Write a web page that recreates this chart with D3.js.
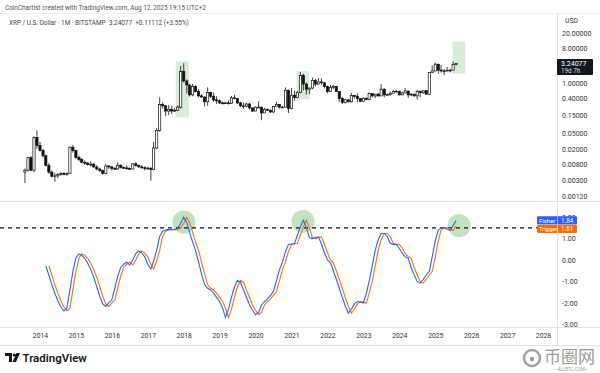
<!DOCTYPE html>
<html>
<head>
<meta charset="utf-8">
<script src="https://cdn.jsdelivr.net/npm/d3@7"></script>
<style>
  body { margin: 0; background: #fff; }
  svg { display: block; font-family: Roboto, "Noto Sans", sans-serif; }
</style>
</head>
<body>
<div id="chart"></div>
<script>
// monthly XRP/USD candles, Aug 2013 .. Aug 2025
const firstMonth = "2013-08";
const opens = [
  .0050, .0056, .0118, .0056, .0390,
  .0245, .0180, .0132, .0075, .0050, .0039, .0040, .0043, .0046, .0043, .0046, .0220,
  .0180, .0120, .0105, .0090, .0085, .0078, .0080, .0068, .0060, .0055, .0046, .0072,
  .0068, .0062, .0060, .0075, .0066, .0064, .0062, .0060, .0082, .0074, .0068, .0065,
  .0062, .0063, .0058, .0210, .0600, .2800, .2600, .1900, .2100, .1900, .2000, .2400,
  2.00, 1.15, .90, .50, .83, .61, .47, .44, .33, .58, .46, .37,
  .35, .31, .31, .31, .30, .42, .40, .31, .26, .25, .29, .23,
  .19, .24, .24, .17, .21, .20, .18, .25, .28, .24, .24, .66,
  .22, .49, .43, .57, 1.60, .95, .70, .75, 1.17, .95, 1.08, 1.03,
  .83, .61, .78, .82, .61, .40, .32, .37, .33, .48, .46, .40,
  .34, .41, .38, .54, .47, .52, .47, .70, .50, .51, .55, .61,
  .62, .50, .56, .63, .50, .52, .47, .62, .57, .64, .52, 1.91,
  2.08, 3.11, 2.19, 2.09, 2.09, 2.17, 2.18, 3.05
];
const highs = [
  .0062, .0125, .0130, .0420, .0600,
  .0300, .0200, .0140, .0085, .0055, .0048, .0047, .0050, .0050, .0049, .0230, .0250,
  .0190, .0135, .0115, .0100, .0092, .0095, .0085, .0075, .0065, .0058, .0080, .0075,
  .0072, .0068, .0090, .0080, .0070, .0075, .0066, .0085, .0090, .0078, .0075, .0070,
  .0068, .0066, .0300, .0700, .4300, .3200, .2700, .2700, .2600, .2300, .2700, 2.800,
  3.30, 1.25, .97, .95, .89, .70, .52, .45, .78, .60, .57, .46,
  .38, .34, .33, .36, .47, .50, .41, .33, .32, .31, .31, .23,
  .25, .34, .24, .23, .22, .21, .26, .33, .29, .26, .78, .68,
  .75, .65, .63, 1.96, 1.75, 1.05, .77, 1.41, 1.30, 1.35, 1.34, 1.06,
  .87, .91, .91, .85, .63, .44, .39, .39, .56, .50, .55, .41,
  .43, .42, .58, .55, .53, .56, .94, .74, .54, .61, .67, .67,
  .63, .60, .74, .63, .55, .53, .66, .64, .66, .64, 1.91, 2.91,
  3.40, 3.15, 3.00, 2.36, 2.65, 2.34, 3.66, 3.35
];
const lows = [
  .0026, .0052, .0052, .0050, .0200,
  .0170, .0120, .0070, .0045, .0036, .0028, .0035, .0040, .0041, .0040, .0045, .0160,
  .0110, .0095, .0085, .0078, .0074, .0070, .0065, .0055, .0050, .0043, .0044, .0060,
  .0055, .0058, .0058, .0062, .0060, .0058, .0058, .0059, .0070, .0065, .0060, .0055,
  .0058, .0030, .0056, .0200, .0550, .2200, .1400, .1500, .1600, .1800, .1900, .2200,
  1.05, .55, .45, .46, .58, .43, .42, .25, .26, .41, .33, .29,
  .29, .28, .30, .28, .29, .38, .29, .24, .22, .24, .21, .18,
  .19, .23, .11, .17, .19, .17, .17, .25, .22, .23, .24, .17,
  .21, .35, .41, .55, .65, .51, .52, .70, .83, .93, .90, .73,
  .55, .60, .70, .61, .33, .29, .30, .32, .32, .40, .32, .33,
  .34, .36, .36, .43, .41, .45, .46, .43, .48, .47, .55, .59,
  .48, .49, .55, .42, .47, .45, .38, .43, .53, .50, .50, 1.89,
  2.05, 1.77, 1.90, 1.61, 2.08, 1.91, 2.18, 2.90
];
const closes = [
  .0056, .0118, .0056, .0390, .0245,
  .0180, .0132, .0075, .0050, .0039, .0040, .0043, .0046, .0043, .0046, .0220, .0180,
  .0120, .0105, .0090, .0085, .0078, .0080, .0068, .0060, .0055, .0046, .0072, .0068,
  .0062, .0060, .0075, .0066, .0064, .0062, .0060, .0082, .0074, .0068, .0065, .0062,
  .0063, .0058, .0210, .0600, .2800, .2600, .1900, .2100, .1900, .2000, .2400, 2.000,
  1.15, .90, .50, .83, .61, .47, .44, .33, .58, .46, .37, .35,
  .31, .31, .31, .30, .42, .40, .31, .26, .25, .29, .23, .19,
  .24, .24, .17, .21, .20, .18, .25, .28, .24, .24, .66, .22,
  .49, .43, .57, 1.60, .95, .70, .75, 1.17, .95, 1.08, 1.03, .83,
  .61, .78, .82, .61, .40, .32, .37, .33, .48, .46, .40, .34,
  .41, .38, .54, .47, .52, .47, .70, .50, .51, .55, .61, .62,
  .50, .56, .63, .50, .52, .47, .62, .57, .64, .52, 1.91, 2.08,
  3.11, 2.19, 2.09, 2.09, 2.17, 2.18, 3.05, 3.24
];

// Fisher transform (monthly) starting Mar 2014, trigger starting Apr 2014
const fisherStart = "2014-03";
const fisher = [
  -0.28, -0.70, -1.15, -1.55, -1.90, -2.20, -2.38, -2.25, -1.40, -0.55,
  0.10, 0.28, 0.22, 0.08, -0.15, -0.45, -0.80, -1.25, -1.70, -2.05, -2.17, -2.00,
  -1.86, -1.30, -0.75, -0.35, -0.20, -0.10, -0.23, 0.00, 0.30, 0.42, 0.32, 0.15,
  -0.20, -0.42, -0.05, 0.45, 1.10, 1.35, 1.40, 1.43, 1.42, 1.44, 1.48, 1.72,
  2.00, 1.75, 1.30, 0.85, 0.45, -0.10, -0.65, -1.15, -1.32, -1.40, -1.55, -1.75,
  -1.94, -2.25, -2.68, -2.30, -1.75, -1.25, -0.95, -1.05, -1.40, -1.75, -2.10, -2.35,
  -2.56, -2.45, -2.10, -1.95, -1.82, -1.65, -1.47, -0.95, -0.45, -0.08, 0.40, 0.73,
  0.75, 0.77, 1.15, 1.55, 1.86, 1.50, 1.05, 1.00, 1.05, 1.08, 0.75, 0.35,
  0.00, -0.12, -0.50, -0.90, -1.32, -1.75, -2.15, -2.48, -2.30, -2.05, -1.94, -1.97,
  -2.01, -1.55, -1.00, -0.30, 0.45, 0.95, 1.24, 1.24, 1.10, 0.78, 0.73, 0.73,
  0.55, 0.31, 0.15, 0.08, -0.35, -0.70, -1.00, -1.08, -0.90, -0.70, -0.54, 0.15,
  0.90, 1.40, 1.50, 1.50, 1.45, 1.38, 1.61, 1.84
];
const triggerStart = "2014-04";
const trigger = [
  -0.28, -0.70, -1.15, -1.55, -1.90, -2.20, -2.38, -2.25, -1.40, -0.55,
  0.10, 0.28, 0.22, 0.08, -0.15, -0.45, -0.80, -1.25, -1.70, -2.05, -2.17, -2.00,
  -1.86, -1.30, -0.75, -0.35, -0.20, -0.10, -0.23, 0.00, 0.30, 0.42, 0.32, 0.15,
  -0.20, -0.42, -0.05, 0.45, 1.10, 1.35, 1.40, 1.43, 1.42, 1.44, 1.48, 1.72,
  2.00, 1.75, 1.30, 0.85, 0.45, -0.10, -0.65, -1.15, -1.32, -1.40, -1.55, -1.75,
  -1.94, -2.25, -2.68, -2.30, -1.75, -1.25, -0.95, -1.05, -1.40, -1.75, -2.10, -2.35,
  -2.56, -2.45, -2.10, -1.95, -1.82, -1.65, -1.47, -0.95, -0.45, -0.08, 0.40, 0.73,
  0.75, 0.77, 1.15, 1.55, 1.86, 1.50, 1.05, 1.00, 1.05, 1.08, 0.75, 0.35,
  0.00, -0.12, -0.50, -0.90, -1.32, -1.75, -2.15, -2.48, -2.30, -2.05, -1.94, -1.97,
  -2.01, -1.55, -1.00, -0.30, 0.45, 0.95, 1.24, 1.24, 1.10, 0.78, 0.73, 0.73,
  0.55, 0.31, 0.15, 0.08, -0.35, -0.70, -1.00, -1.08, -0.90, -0.70, -0.54, 0.15,
  0.90, 1.40, 1.50, 1.50, 1.45, 1.38, 1.61
];
const fisherLevel = 1.5;

// tick labels
const priceTicks = [20, 8, 1, 0.4, 0.15, 0.05, 0.02, 0.008, 0.003, 0.0012];
const fisherTicks = [2, 1, 0, -1, -2, -3];
const yearLabels = ["2014","2015","2016","2017","2018","2019","2020","2021",
                    "2022","2023","2024","2025","2026","2027","2028"];

// highlighted zones: [start, end, low price, high price]
const priceZones = [
  ["2017-10-12", "2018-02-22", 0.13, 3.7],
  ["2021-02-22", "2021-06-30", 0.38, 2.05],
  ["2025-06-25", "2025-11-01", 1.79, 11.9]
];
// highlighted fisher tops: [date, value]
const fisherTops = [["2018-01-03", 1.77], ["2021-04-28", 1.80], ["2025-09-01", 1.61]];

const lastPrice = 3.24077, lastFisher = 1.84, lastTrigger = 1.61;

/** LAYOUT */
const width = 600, height = 373,
  paneRight = 557,
  price = { top: 15, bottom: 200 },
  ind = { top: 202, bottom: 327 };

const parseM = d3.timeParse("%Y-%m");
const parseD = d3.timeParse("%Y-%m-%d");
const monthsFrom = (start, n) => d3.timeMonth.range(parseM(start), d3.timeMonth.offset(parseM(start), n));

const candleDates = monthsFrom(firstMonth, closes.length);
const candles = candleDates.map((d, i) => ({ date: d, o: opens[i], h: highs[i], l: lows[i], c: closes[i] }));
const fisherData = monthsFrom(fisherStart, fisher.length).map((d, i) => ({ date: d, v: fisher[i] }));
const triggerData = monthsFrom(triggerStart, trigger.length).map((d, i) => ({ date: d, v: trigger[i] }));

/** SCALES */
const x = d3.scaleTime()
  .domain([new Date(2014, 0, 1), new Date(2028, 0, 1)])
  .range([40, 543]);
const yP = d3.scaleLog().domain([0.0012, 20]).range([196, 33]);
const yF = d3.scaleLinear().domain([-3, 2]).range([324.2, 217.2]);

const svg = d3.select("#chart").append("svg")
  .attr("width", width).attr("height", height);

const defs = svg.append("defs");
defs.append("clipPath").attr("id", "clipP").append("rect")
  .attr("x", 0).attr("y", price.top).attr("width", paneRight).attr("height", price.bottom - price.top);
defs.append("clipPath").attr("id", "clipI").append("rect")
  .attr("x", 0).attr("y", ind.top).attr("width", paneRight).attr("height", ind.bottom - ind.top);

// header
svg.append("text").attr("x", 5).attr("y", 10)
  .attr("font-size", 6.4).attr("fill", "#555")
  .text("CoinChartist created with TradingView.com, Aug 12, 2025 19:15 UTC+2");
svg.append("line").attr("x1", 0).attr("x2", width).attr("y1", 13.5).attr("y2", 13.5)
  .attr("stroke", "#eceef2");
svg.append("text").attr("x", 9).attr("y", 25)
  .attr("font-size", 6.4).attr("fill", "#444")
  .text("XRP / U.S. Dollar · 1M · BITSTAMP  3.24077  +0.11112 (+3.55%)")
  .attr("xml:space", "preserve");

// pane separators
const sep = svg.append("g").attr("stroke", "#e0e3eb").attr("stroke-width", 1);
sep.append("line").attr("x1", 0).attr("x2", width).attr("y1", 201.5).attr("y2", 201.5);
sep.append("line").attr("x1", 0).attr("x2", width).attr("y1", 327.5).attr("y2", 327.5);
sep.append("line").attr("x1", 0).attr("x2", width).attr("y1", 345.5).attr("y2", 345.5);
sep.append("line").attr("x1", paneRight + 0.5).attr("x2", paneRight + 0.5).attr("y1", 13.5).attr("y2", 345.5);

/** PRICE PANE */
const gP = svg.append("g").attr("clip-path", "url(#clipP)");
gP.selectAll("rect.zone").data(priceZones).join("rect")
  .attr("class", "zone")
  .attr("x", d => x(parseD(d[0])))
  .attr("width", d => x(parseD(d[1])) - x(parseD(d[0])))
  .attr("y", d => yP(d[3]))
  .attr("height", d => yP(d[2]) - yP(d[3]))
  .attr("fill", "rgba(76,175,80,0.22)");

const bw = 2.2;
const cg = gP.selectAll("g.candle").data(candles).join("g").attr("class", "candle");
cg.append("line")
  .attr("x1", d => x(d.date)).attr("x2", d => x(d.date))
  .attr("y1", d => yP(d.h)).attr("y2", d => yP(d.l))
  .attr("stroke", "#111").attr("stroke-width", 0.8);
cg.append("rect")
  .attr("x", d => x(d.date) - bw / 2)
  .attr("width", bw)
  .attr("y", d => yP(Math.max(d.o, d.c)))
  .attr("height", d => Math.max(0.8, Math.abs(yP(d.o) - yP(d.c))))
  .attr("fill", d => d.c >= d.o ? "#fff" : "#111")
  .attr("stroke", "#111").attr("stroke-width", 0.7);

// price scale
svg.append("text").attr("x", 565).attr("y", 23).attr("font-size", 6.8).attr("fill", "#333").text("USD");
const pAxis = svg.append("g").attr("transform", `translate(562,0)`)
  .call(d3.axisRight(yP).tickValues(priceTicks).tickFormat(d3.format(".5f")).tickSize(0).tickPadding(0));
pAxis.select(".domain").remove();
pAxis.selectAll("text").attr("font-size", 7).attr("fill", "#333").attr("font-family", "Roboto, sans-serif");

const ly = yP(lastPrice);
svg.append("rect").attr("x", paneRight).attr("y", ly - 4.5).attr("width", 36).attr("height", 16)
  .attr("rx", 1).attr("fill", "#131722");
svg.append("text").attr("x", 561).attr("y", ly + 2.5).attr("font-size", 7).attr("fill", "#fff").text(lastPrice.toFixed(5));
svg.append("text").attr("x", 561).attr("y", ly + 9.8).attr("font-size", 6.3).attr("fill", "#ddd").text("19d 7h");

/** FISHER PANE */
const gI = svg.append("g").attr("clip-path", "url(#clipI)");
gI.selectAll("circle.top").data(fisherTops).join("circle")
  .attr("class", "top")
  .attr("cx", d => x(parseD(d[0])))
  .attr("cy", d => yF(d[1]))
  .attr("r", 11.5)
  .attr("fill", "rgba(76,175,80,0.35)");

gI.append("line")
  .attr("x1", 0).attr("x2", paneRight)
  .attr("y1", yF(fisherLevel)).attr("y2", yF(fisherLevel))
  .attr("stroke", "#111").attr("stroke-width", 1.2).attr("stroke-dasharray", "4,4");

const line = d3.line().x(d => x(d.date)).y(d => yF(d.v)).curve(d3.curveLinear);
gI.append("path").datum(triggerData).attr("d", line)
  .attr("fill", "none").attr("stroke", "#ff6d00").attr("stroke-width", 1.1);
gI.append("path").datum(fisherData).attr("d", line)
  .attr("fill", "none").attr("stroke", "#2962ff").attr("stroke-width", 1.1);

const fAxis = svg.append("g").attr("transform", `translate(562,0)`)
  .call(d3.axisRight(yF).tickValues(fisherTicks).tickFormat(d => d.toFixed(2)).tickSize(0).tickPadding(0));
fAxis.select(".domain").remove();
fAxis.selectAll("text").attr("font-size", 7).attr("fill", "#333").attr("font-family", "Roboto, sans-serif");

// fisher / trigger labels
const labels = [
  { name: "Fisher", v: lastFisher, y: yF(lastFisher) - 4.3, color: "#2962ff" },
  { name: "Trigger", v: lastTrigger, y: yF(lastFisher) + 4.3, color: "#ff6d00" }
];
const lg = svg.selectAll("g.flab").data(labels).join("g").attr("class", "flab");
lg.append("rect").attr("x", 537).attr("y", d => d.y).attr("width", 40).attr("height", 8.2)
  .attr("rx", 1).attr("fill", d => d.color);
lg.append("line").attr("x1", 557.5).attr("x2", 557.5).attr("y1", d => d.y).attr("y2", d => d.y + 8.2)
  .attr("stroke", "rgba(255,255,255,0.5)");
lg.append("text").attr("x", 539).attr("y", d => d.y + 6.2).attr("font-size", 6).attr("fill", "#fff").text(d => d.name);
lg.append("text").attr("x", 561).attr("y", d => d.y + 6.2).attr("font-size", 6.3).attr("fill", "#fff").text(d => d.v.toFixed(2));

/** TIME AXIS */
const xAxis = svg.append("g").attr("transform", "translate(0,331)")
  .call(d3.axisBottom(x)
    .tickValues(yearLabels.map(y => new Date(+y, 0, 1)))
    .tickFormat(d3.timeFormat("%Y")).tickSize(0).tickPadding(2));
xAxis.select(".domain").remove();
xAxis.selectAll("text").attr("font-size", 6.8).attr("fill", "#333").attr("font-family", "Roboto, sans-serif");

/** FOOTER */
const logo = svg.append("g").attr("fill", "#131722");
logo.append("path").attr("d", "M5,353 H12 V362 H9 V356 H5 Z");
logo.append("circle").attr("cx", 14.3).attr("cy", 355).attr("r", 1.6);
logo.append("path").attr("d", "M16.5,353 H20 L16,362 H12.5 Z");
svg.append("text").attr("x", 22.5).attr("y", 362).attr("font-size", 11.5)
  .attr("font-weight", 600).attr("fill", "#131722").text("TradingView");

// watermark
const wm = svg.append("g").attr("fill", "#9a9a9a");
wm.append("circle").attr("cx", 532).attr("cy", 358).attr("r", 8)
  .attr("fill", "none").attr("stroke", "#a5a5a5").attr("stroke-width", 2.6);
wm.append("circle").attr("cx", 532).attr("cy", 359).attr("r", 2.2);
wm.append("text").attr("x", 544).attr("y", 363).attr("font-size", 17)
  .attr("font-family", "'Noto Sans CJK SC', sans-serif").text("币圈网");
wm.append("text").attr("x", 571).attr("y", 371).attr("font-size", 4.5)
  .attr("text-anchor", "middle").text("—ALLBTC.COM—");
</script>
</body>
</html>
